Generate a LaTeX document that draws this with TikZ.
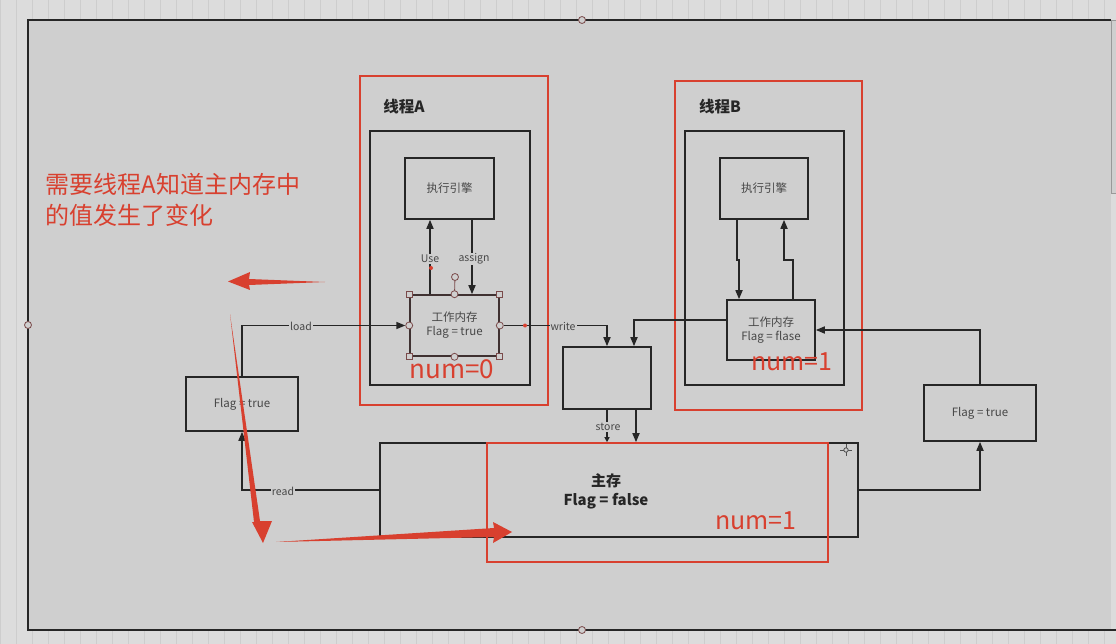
\documentclass[tikz,border=0pt]{standalone}
\usepackage{fontspec}
\setmainfont{Noto Sans CJK SC}
\usetikzlibrary{arrows.meta,calc}
\definecolor{bgin}{HTML}{CFCFCF}
\definecolor{bgout}{HTML}{DCDCDC}
\definecolor{gridc}{HTML}{CDCDCD}
\definecolor{ink}{HTML}{262626}
\definecolor{myred}{HTML}{D8402F}
\definecolor{handle}{HTML}{7A4A4A}
\tikzset{
  box/.style={draw=ink, line width=1.6pt, rectangle, inner sep=0pt},
  redbox/.style={draw=myred, line width=2pt, rectangle, inner sep=0pt},
  conn/.style={draw=ink, line width=1.6pt, -{Triangle[length=9pt,width=7pt]}},
  smallconn/.style={draw=ink, line width=1.6pt, -{Triangle[length=5pt,width=5pt]}},
  lbl/.style={fill=bgin, inner sep=1pt, font=\fontsize{10.5}{12}\selectfont, text=ink!85},
  boxtxt/.style={font=\fontsize{11.5}{14}\selectfont, text=ink!85, align=center},
  numtxt/.style={text=myred, font=\fontsize{26}{28}\selectfont},
  sqh/.style={draw=handle, fill=bgin, line width=0.8pt, minimum size=6pt, inner sep=0pt, rectangle},
  cih/.style={draw=handle, fill=bgin, line width=0.8pt, minimum size=7pt, inner sep=0pt, circle},
  rdot/.style={fill=myred, circle, inner sep=0pt, minimum size=4pt},
}
\begin{document}
\begin{tikzpicture}[x=1pt,y=-1pt]
\useasboundingbox (0,0) rectangle (1116,644);
% background and grid
\fill[bgout] (0,0) rectangle (1116,644);
\draw[gridc, line width=0.6pt, step=16] (0,0) grid (1116,644);
\fill[bgin] (28,20) rectangle (1111,630);
\draw[ink, line width=1.4pt] (1111,20) -- (28,20) -- (28,630) -- (1116,630);
\draw[gray!80, line width=0.8pt, fill=bgin] (1111,20) rectangle (1118,193);
\node[cih] (hTop) at (582,20) {};
\node[cih] (hLeft) at (28,325) {};
\node[cih] (hBot) at (582,630) {};

% thread A
\node[redbox, minimum width=188pt, minimum height=329pt] (redA) at (454,240.5) {};
\node[box, minimum width=160pt, minimum height=254pt] (innA) at (450,258) {};
\node[font=\bfseries\fontsize{15.5}{17}\selectfont, text=ink] (tA) at (404,107) {线程A};
\node[box, minimum width=89pt, minimum height=61pt, boxtxt] (engA) at (449.5,188.5) {执行引擎};
\node[box, draw=ink!70!handle, minimum width=89pt, minimum height=61pt, boxtxt] (wmA) at (454.5,325.5) {工作内存\\Flag = true};
\node[numtxt] (numA) at (452,369) {num=0};

% thread B
\node[redbox, minimum width=187pt, minimum height=329pt] (redB) at (768.5,245.5) {};
\node[box, minimum width=159pt, minimum height=254pt] (innB) at (764.5,258) {};
\node[font=\bfseries\fontsize{15.5}{17}\selectfont, text=ink] (tB) at (720,107) {线程B};
\node[box, minimum width=88pt, minimum height=61pt, boxtxt] (engB) at (764,188.5) {执行引擎};
\node[box, minimum width=88pt, minimum height=60pt, boxtxt] (wmB) at (771,330) {工作内存\\Flag = flase};
\node[numtxt, font=\fontsize{25}{27}\selectfont] (numB) at (792,362) {num=1};

% write buffer box
\node[box, minimum width=88pt, minimum height=62pt] (wbox) at (607,378) {};

% main memory
\node[box, minimum width=478pt, minimum height=94pt] (mm) at (619,490) {};
\node[redbox, minimum width=341pt, minimum height=119pt] (redM) at (657.5,502.5) {};
\node[font=\bfseries\fontsize{15}{19}\selectfont, text=ink, align=center] (mmt) at (606,491) {主存\\Flag = false};
\node[numtxt, font=\fontsize{25}{27}\selectfont] (numM) at (756,521) {num=1};
% crosshair
\coordinate (ch) at (846,450);
\draw[ink!80, line width=0.8pt] ($(ch)+(-6,0)$) -- ($(ch)+(6,0)$) ($(ch)+(0,-6)$) -- ($(ch)+(0,6)$);
\draw[ink!80, fill=bgin, line width=0.8pt] (ch) circle (2.2pt);

% side flag boxes
\node[box, minimum width=112pt, minimum height=54pt, boxtxt] (lflag) at (242,404) {Flag = true};
\node[box, minimum width=112pt, minimum height=56pt, boxtxt] (rflag) at (980,413) {Flag = true};

% x positions
\coordinate (xUse) at (430,0);
\coordinate (xAs) at (472,0);
\coordinate (xB2) at (634,320);
\coordinate (xSt2) at (636,0);
\coordinate (b1) at (737,0);
\coordinate (b1m) at (737,260);
\coordinate (b2m) at (739,260);
\coordinate (b2) at (739,0);
\coordinate (b3) at (793,0);
\coordinate (b3m) at (793,260);
\coordinate (b4m) at (784,260);
\coordinate (b4) at (784,0);

% connectors thread A
\draw[conn] (wmA.north -| xUse) -- (engA.south -| xUse);
\draw[conn] (engA.south -| xAs) -- (wmA.north -| xAs);
\node[lbl] (lUse) at (430,259) {Use};
\node[lbl] (lAs) at (474,259) {assign};
% handles around wmA
\draw[handle, line width=0.8pt] (wmA.north) -- (455,277);
\node[cih] (hRot) at (455,277) {};
\foreach \a/\n in {north west/h1, north east/h2, south west/h3, south east/h4} {
  \node[sqh] (\n) at (wmA.\a) {};
}
\foreach \a/\n in {north/h5, south/h6, west/h7, east/h8} {
  \node[cih] (\n) at (wmA.\a) {};
}
\node[rdot] (d1) at (431,268) {};

% load / read
\draw[conn] (lflag.north) |- (h7.west);
\node[lbl] (lLoad) at (301,326) {load};
\draw[conn] (mm.west) -| (lflag.south);
\node[lbl] (lRead) at (283,491) {read};

% write
\draw[conn] (h8.east) -| (wbox.north);
\node[rdot] (d2) at (525,325.5) {};
\node[lbl] (lWrite) at (563,326) {write};
\draw[conn] (wmB.west |- xB2) -| (wbox.north -| xB2);

% store
\draw[smallconn] (wbox.south) -- (mm.north -| wbox.south);
\node[lbl] (lStore) at (608,427) {store};
\draw[conn] (wbox.south -| xSt2) -- (mm.north -| xSt2);

% thread B internal
\draw[conn] (engB.south -| b1) -- (b1m) -- (b2m) -- (wmB.north -| b2);
\draw[conn] (wmB.north -| b3) -- (b3m) -- (b4m) -- (engB.south -| b4);

% right side
\draw[conn] (mm.east) -| (rflag.south);
\draw[conn] (rflag.north) |- (wmB.east);

% annotation
\node[text=myred, font=\fontsize{24}{31}\selectfont, align=left, anchor=north west] (note) at (42,170) {需要线程A知道主内存中\\的值发生了变化};

% red hand-drawn arrows
\fill[myred] (325,282) -- (249,279) -- (250,272) -- (228,281.5) -- (250,290) -- (249,285) -- cycle;
\fill[myred] (230,314) -- (254,522) -- (252,522) -- (263,543) -- (272,521) -- (260,521) -- cycle;
\fill[myred] (276,542) -- (494,528) -- (493,522) -- (512,532) -- (493,543) -- (494,537) -- cycle;
\end{tikzpicture}
\end{document}
